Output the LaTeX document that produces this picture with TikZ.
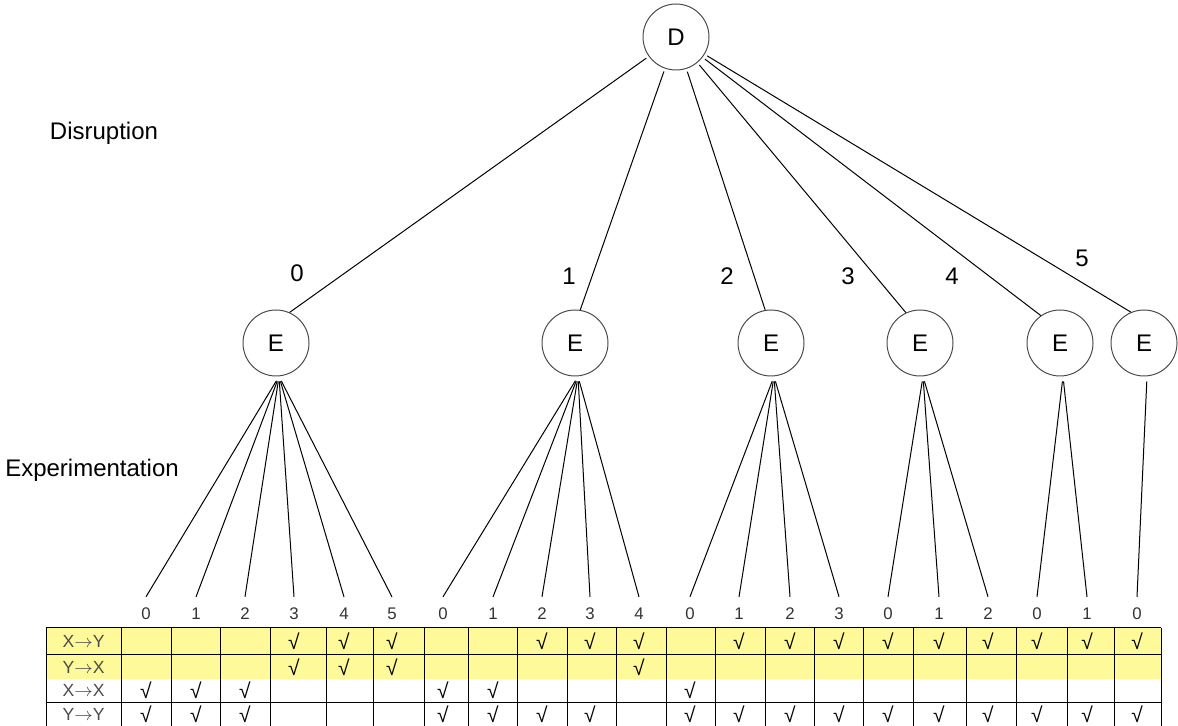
\documentclass[tikz,border=0pt]{standalone}
\usepackage{fontspec}
\setmainfont{Liberation Sans}
\newcommand{\arr}{\ensuremath{\rightarrow}}
\begin{document}
\begin{tikzpicture}[x=0.5pt,y=-0.5pt,line width=0.5pt,
  state/.style={draw=black!70,circle,minimum size=33pt,inner sep=0pt,font=\fontsize{12}{14}\selectfont},
  lbl/.style={font=\fontsize{12}{14}\selectfont},
  hdr/.style={font=\fontsize{8.4}{10}\selectfont,text=black!80,inner sep=5pt,anchor=base},
  chk/.style={font=\fontsize{10.5}{12}\selectfont,inner sep=0pt},
  rowlbl/.style={font=\fontsize{8.8}{10}\selectfont,text=black!70,inner sep=0pt}]
\useasboundingbox (0,0) rectangle (1178,726);

\node[lbl] (disr) at (104,133) {Disruption};
\node[lbl] (expe) at (92,470) {Experimentation};

\node[state] (d) at (676,37) {D};
  \node[state] (e0) at (276,343) {E};
  \node[state] (e1) at (575,343) {E};
  \node[state] (e2) at (771,343) {E};
  \node[state] (e3) at (920,343) {E};
  \node[state] (e4) at (1060,343) {E};
  \node[state] (e5) at (1144,343) {E};

\draw[shorten <=1.5pt] (d) -- (e0.66);
\draw[shorten <=1.5pt] (d) -- (e1.81);
\draw[shorten <=1.5pt] (d) -- (e2.100);
\draw[shorten <=1.5pt] (d) -- (e3.115);
\draw[shorten <=1.5pt] (d) -- (e4.125);
\draw[shorten <=1.5pt] (d) -- (e5.113);

\node[lbl] (w0) at (297,273) {0};
\node[lbl] (w1) at (569,276) {1};
\node[lbl] (w2) at (727,276) {2};
\node[lbl] (w3) at (848,276) {3};
\node[lbl] (w4) at (952,276) {4};
\node[lbl] (w5) at (1082,258) {5};

% experiments under each E
\foreach \x/\n/\p in {146/0/e0,196/1/e0,245/2/e0,294/3/e0,344/4/e0,392/5/e0,
    443/0/e1,493/1/e1,542/2/e1,590/3/e1,639/4/e1,
    690/0/e2,739/1/e2,790/2/e2,839/3/e2,
    888/0/e3,939/1/e3,988/2/e3,
    1037/0/e4,1087/1/e4,
    1137/0/e5}{
  \node[hdr] (h-\p-\n) at (\x,619) {\n};
  \draw[shorten <=2.5pt] ([xshift=1.5pt]\p.south) -- (h-\p-\n.north);
}

% table
\fill[yellow!40] (46,628) rectangle (1161,679);
\foreach \y in {628,655,702}
  \draw (46,\y) -- (1161,\y);
\foreach \x in {46,121,171,220,270,326,373,424,468,517,567,616,666,715,765,814,863,913,966,1016,1067,1114,1161}
  \draw (\x,628) -- (\x,740);

\node[rowlbl] (xy) at (83.5,641.5) {X\arr Y};
\node[rowlbl] (yx) at (83.5,667) {Y\arr X};
\node[rowlbl] (xx) at (83.5,690.5) {X\arr X};
\node[rowlbl] (yy) at (83.5,714) {Y\arr Y};

\foreach \x in {294,344,392,542,590,639,739,790,839,888,939,988,1037,1087,1137}
  \node[chk] (c1-\x) at (\x,641.5) {√};
\foreach \x in {294,344,392,639}
  \node[chk] (c2-\x) at (\x,667) {√};
\foreach \x in {146,196,245,443,493,690}
  \node[chk] (c3-\x) at (\x,690.5) {√};
\foreach \x in {146,196,245,443,493,542,590,690,739,790,839,888,939,988,1037,1087,1137}
  \node[chk] (c4-\x) at (\x,714) {√};
\end{tikzpicture}
\end{document}
